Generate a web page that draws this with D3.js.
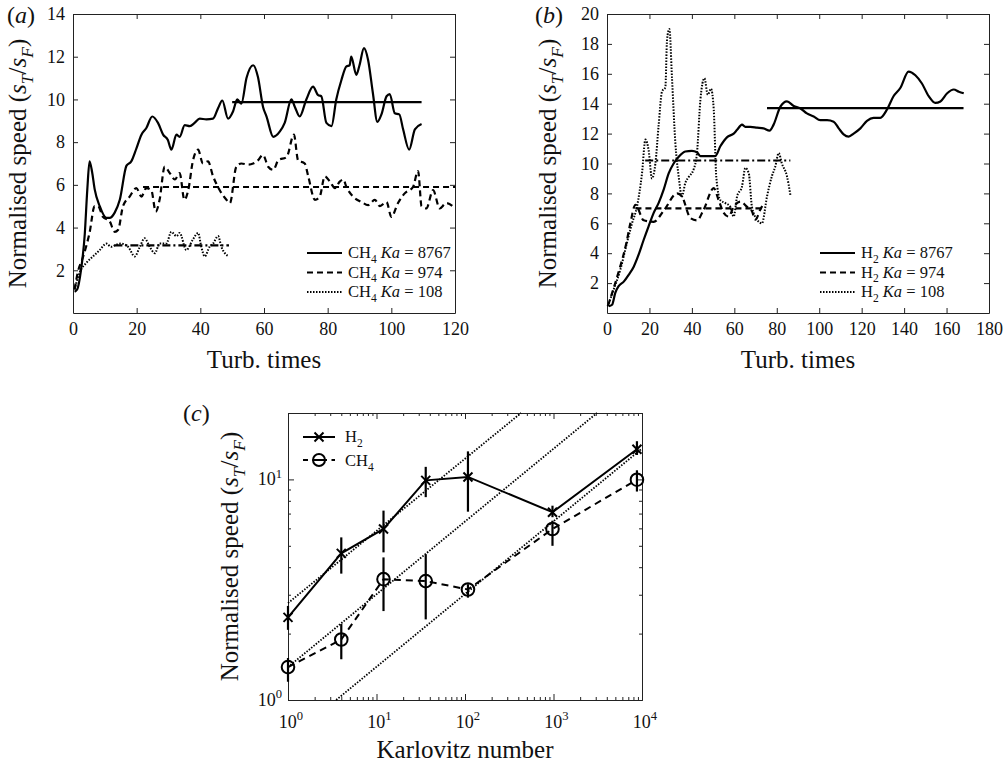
<!DOCTYPE html>
<html>
<head>
<meta charset="utf-8">
<script src="https://cdn.jsdelivr.net/npm/d3@7/dist/d3.min.js"></script>
<style>
  body { margin: 0; background: #fff; }
  svg text { font-family: "Liberation Serif", "Times New Roman", serif; fill: #111; }
</style>
</head>
<body>
<div id="fig"></div>
<script>
// ---- panel (a): CH4, [turb. time, s_T/s_F]
const ch4Ka8767 = [[0.5,1.0],[1.3,1.1],[2.5,2.0],[3.7,3.7],[4.5,5.8],[5.2,7.1],[6.0,6.6],[6.8,5.8],[8.4,5.0],[10.5,4.45],[11.5,4.45],[13.1,4.7],[14.7,5.3],[16.8,6.9],[18.3,7.1],[19.9,7.7],[21.5,8.35],[23,8.65],[24.9,9.2],[26.7,8.9],[28.3,8.35],[29.8,8.1],[30.9,7.65],[32.5,8.35],[33.5,8.25],[35.1,8.8],[36.7,8.75],[38.2,8.9],[39.8,9.1],[41.9,9.07],[44,9.1],[45.6,9.6],[46.9,9.95],[48.7,9.1],[50.3,9.45],[51.6,10],[52.9,9.8],[54.5,11],[56.6,11.6],[58.1,11.05],[59.7,9.65],[60.8,9.2],[62.9,8.25],[65,8.5],[66.5,8.9],[68.6,10],[69.7,9.65],[71.2,9.2],[73.3,10],[75.4,10.6],[77,10.2],[78,10.15],[79.6,8.9],[81.2,8.75],[82.7,10],[84.3,10.9],[85.9,11.55],[86.9,11.6],[87.4,12.0],[89,11.15],[90,11.6],[91.4,12.4],[92.7,11.85],[94.2,10.3],[95.6,8.95],[96.9,9.3],[98.5,10.15],[99.5,10.25],[101.1,9.35],[102.5,9.3],[103.7,8.6],[105.6,7.65],[107.4,8.6],[109.5,8.85]];
const ch4Ka974 = [[0.5,1.1],[1.5,1.9],[3.1,2.6],[5.2,3.75],[6.8,5.0],[7.9,5.0],[9.4,4.5],[11.5,4.3],[13.1,3.8],[14.2,3.9],[15.7,5.0],[17.8,5.45],[19.9,5.85],[21.5,5.45],[23,5.85],[24.6,5.75],[26,4.75],[27.2,5.3],[28.8,6.85],[30.4,6.55],[32,6.25],[33.5,6.55],[35,5.3],[36.2,5.75],[37.7,7.15],[39.3,7.65],[40.8,7.0],[42.4,7.1],[44,6.4],[46.1,5.75],[48.2,5.3],[49.3,5.15],[51.3,6.85],[52.9,7.0],[55,6.95],[56.6,7.0],[58.1,7.15],[59.7,7.4],[61.3,6.85],[62.9,6.7],[64.5,7.15],[67.1,7.3],[69.4,8.35],[70.7,7.15],[72.8,7.0],[73.9,6.4],[76,5.3],[77.5,5.45],[79.1,6.4],[80.7,6.15],[82.3,5.85],[83.8,6.15],[84.9,6.25],[85.9,5.9],[88,5.45],[90.6,5.2],[92.7,5.05],[94.8,5.3],[96.4,5.0],[98.5,5.2],[100,4.5],[102.1,5.15],[104.2,5.6],[106.8,5.9],[108.4,6.65],[109.5,5.0],[111,4.9],[113.1,5.75],[115.2,4.9],[117.3,5.15],[120,4.9]];
const ch4Ka108 = [[0.5,1.1],[2.1,1.9],[4.2,2.35],[6.3,2.65],[8.4,2.95],[10.5,3.25],[12,3.1],[13.6,3.2],[15.2,3.25],[17.3,3.1],[19.4,2.65],[21,3.1],[22.5,3.5],[24.1,3.1],[25.7,2.8],[27.2,3.25],[29.3,3.25],[30.9,3.8],[32.5,3.6],[33.5,3.75],[35.6,2.95],[37.7,3.45],[39.3,3.75],[40.3,3.1],[41.4,2.65],[42.9,3.1],[44,3.25],[45.6,3.6],[46.6,3.1],[47.7,2.8],[49,2.65]];
// time-averaged values: [start, end, mean]
const ch4Means = [[50, 109.5, 9.87], [22, 120, 5.9], [13, 49, 3.17]];
const kaLabels = ["8767", "974", "108"];

// ---- panel (b): H2
const h2Ka8767 = [[0.8,0.45],[2.4,0.55],[3.9,1.35],[5.5,1.8],[7.9,2.1],[10.2,2.55],[12.6,3.1],[14.9,3.9],[17.3,4.9],[19.6,5.8],[22,6.7],[24.3,7.35],[26.7,8.25],[29.1,9.35],[31.4,10.0],[33.8,10.45],[36.9,10.8],[40,10.85],[42.4,10.75],[44,10.5],[47.1,10.5],[51,10.5],[53.4,11.15],[56.5,11.75],[59.7,12.0],[61.3,12.25],[63.6,12.6],[65.2,12.45],[67.5,12.45],[70.7,12.4],[73.8,12.35],[76.6,12.2],[78.5,12.6],[81.7,13.8],[84.8,14.15],[88,13.85],[91,13.7],[94.2,13.35],[97.4,13.15],[100.5,12.9],[103.7,12.9],[106.8,12.8],[109.2,12.35],[111.5,11.95],[113.9,11.8],[116.2,12.0],[119.4,12.35],[122.5,12.85],[125.6,13.05],[128.8,13.05],[131.9,13.6],[135,14.5],[138.2,15.05],[142.1,16.15],[145.3,15.9],[148.4,15.35],[151.6,14.5],[154.7,14.05],[157.1,14.15],[160.3,14.7],[163.4,14.95],[165.8,14.8],[168.1,14.7]];
const h2Ka974 = [[0.5,0.5],[3,1.6],[6,3.0],[9,4.6],[11,6.0],[13.4,7.24],[17.3,6.2],[22,6.1],[27,6.9],[33,8.0],[35.3,7.8],[39.3,6.35],[42.4,6.2],[45.5,6.9],[50.3,8.35],[52.6,7.55],[55,6.7],[57.3,6.45],[59.7,7.1],[62.8,7.45],[66,7.1],[68.3,6.8],[69.9,6.25],[72.2,6.9],[73.8,7.35]];
const h2Ka108 = [[0.3,0.45],[3.1,1.55],[6.3,2.9],[9.4,4.7],[11.8,6.0],[14.1,7.1],[16.5,9.35],[18.1,11.6],[19.6,10.9],[21.2,9.0],[22.8,10.0],[24.3,12.5],[25.9,14.8],[27.5,15.1],[28.3,18.3],[29.4,19.0],[30.6,15.8],[32.2,11.4],[33.8,9.1],[35.3,7.8],[36.9,8.7],[38.5,9.1],[40.8,9.6],[42.4,10.7],[44,14.25],[45.9,15.7],[47.5,14.6],[49,15.0],[50.3,13.6],[51.5,9.1],[53.4,7.55],[55.8,7.35],[58.1,7.1],[59.7,6.45],[61.3,7.8],[63.6,8.45],[65.2,9.7],[66.8,9.35],[68.3,7.1],[70.7,6.25],[73,6.0],[75.4,7.8],[77.7,9.15],[79.3,9.8],[80.9,10.7],[82.4,10.0],[84.8,9.15],[86.4,7.9]];
const h2Means = [[75.4, 168, 13.7], [13.4, 73.8, 7.0], [18, 86.4, 10.2]];

// ---- panel (c): Karlovitz number vs mean speed, with error bars [low, high]
const kaValues = [1, 4, 12, 36, 108, 974, 8767];
const h2Speed = [2.37, 4.62, 5.96, 9.9, 10.26, 7.1, 13.7];
const h2Err = [[2.08,2.67],[3.74,5.46],[4.67,7.22],[8.31,11.4],[7.14,13.4],[6.74,7.6],[12.9,14.9]];
const ch4Speed = [1.41, 1.88, 3.53, 3.46, 3.17, 5.96, 9.97];
const ch4Err = [[1.21,1.55],[1.53,2.21],[2.53,4.43],[2.32,4.58],[2.91,3.35],[5.0,6.5],[8.81,11.0]];
// dotted guide lines, end points [Ka, speed]
const guides = [[[1, 2.75], [430, 20]], [[1, 1.41], [3100, 20]], [[3.5, 1], [10000, 13.8]]];

const styles = [
  { dash: null, width: 2.2 },
  { dash: "6,4", width: 2.2 },
  { dash: "1.5,1.5", width: 2 }
];
const meanDash = [null, "6,4", "8,3,2,3"];

const svg = d3.select("#fig").append("svg")
  .attr("width", 1006).attr("height", 763);

// write text made of parts: {t, it, sub, sup}
function rich(sel, parts, size) {
  let shift = 0;
  parts.forEach(p => {
    const ts = sel.append("tspan").text(p.t);
    if (p.it) ts.attr("font-style", "italic");
    let want = 0;
    if (p.sub) { want = size * 0.28; ts.attr("font-size", size * 0.7); }
    if (p.sup) { want = -size * 0.42; ts.attr("font-size", size * 0.7); }
    if (want !== shift) { ts.attr("dy", want - shift); shift = want; }
  });
  return sel;
}

const yTitle = [{t:"Normalised speed ("},{t:"s",it:true},{t:"T",it:true,sub:true},{t:"/"},{t:"s",it:true},{t:"F",it:true,sub:true},{t:")"}];

function styleAxis(g, size) {
  g.attr("font-size", size).attr("font-family", null).style("color", "#222");
  g.selectAll("path, line").attr("stroke-width", 1);
}

function timePanel(opt) {
  const { left, right, top, bottom } = opt.box;
  const x = d3.scaleLinear().domain([0, opt.xMax]).range([left, right]);
  const y = d3.scaleLinear().domain([0, opt.yMax]).range([bottom, top]);
  const g = svg.append("g");
  const xt = d3.range(0, opt.xMax + 1, opt.xStep);
  const yt = d3.range(2, opt.yMax + 1, 2);

  g.append("g").attr("transform", `translate(0,${bottom})`)
    .call(d3.axisBottom(x).tickValues(xt).tickSize(-5).tickSizeOuter(0).tickPadding(9))
    .call(a => styleAxis(a, 18));
  g.append("g").attr("transform", `translate(0,${top})`)
    .call(d3.axisTop(x).tickValues(xt).tickSize(-5).tickSizeOuter(0).tickFormat(""))
    .call(a => styleAxis(a, 18));
  g.append("g").attr("transform", `translate(${left},0)`)
    .call(d3.axisLeft(y).tickValues(yt).tickSize(-5).tickSizeOuter(0).tickPadding(8))
    .call(a => styleAxis(a, 18));
  g.append("g").attr("transform", `translate(${right},0)`)
    .call(d3.axisRight(y).tickValues(yt).tickSize(-5).tickSizeOuter(0).tickFormat(""))
    .call(a => styleAxis(a, 18));

  const smooth = d3.line().x(d => x(d[0])).y(d => y(d[1])).curve(d3.curveMonotoneX);
  opt.series.forEach((s, i) => {
    g.append("path").datum(s)
      .attr("d", smooth)
      .attr("fill", "none").attr("stroke", "#000")
      .attr("stroke-width", styles[i].width)
      .attr("stroke-dasharray", styles[i].dash);
  });
  opt.means.forEach((m, i) => {
    g.append("line")
      .attr("x1", x(m[0])).attr("x2", x(m[1]))
      .attr("y1", y(m[2])).attr("y2", y(m[2]))
      .attr("stroke", "#000").attr("stroke-width", 2.2)
      .attr("stroke-dasharray", meanDash[i]);
  });

  // legend
  kaLabels.forEach((ka, i) => {
    const ly = 253 + i * 19.5;
    g.append("line")
      .attr("x1", opt.legX).attr("x2", opt.legX + 35)
      .attr("y1", ly).attr("y2", ly)
      .attr("stroke", "#000").attr("stroke-width", styles[i].width)
      .attr("stroke-dasharray", styles[i].dash);
    const t = g.append("text").attr("x", opt.legX + 41).attr("y", ly + 5).attr("font-size", 16.5);
    rich(t, [{t: opt.fuel}, {t: opt.sub, sub: true}, {t: " "}, {t: "Ka", it: true}, {t: " = " + ka}], 16.5);
  });

  // titles
  g.append("text").attr("x", (left + right) / 2).attr("y", 368)
    .attr("text-anchor", "middle").attr("font-size", 25).text("Turb. times");
  const yt2 = g.append("text")
    .attr("transform", `translate(${opt.yTitleX},${(top + bottom) / 2}) rotate(-90)`)
    .attr("text-anchor", "middle").attr("font-size", 25);
  rich(yt2, yTitle, 25);
  const tag = g.append("text").attr("x", opt.tagX).attr("y", 23).attr("font-size", 24);
  rich(tag, [{t:"("},{t: opt.tag, it: true},{t:")"}], 24);
}

timePanel({
  box: { left: 73, right: 455, top: 14, bottom: 313 },
  xMax: 120, xStep: 20, yMax: 14,
  series: [ch4Ka8767, ch4Ka974, ch4Ka108], means: ch4Means,
  fuel: "CH", sub: "4", legX: 307,
  yTitleX: 26, tagX: 7, tag: "a"
});
timePanel({
  box: { left: 607, right: 989, top: 14, bottom: 313 },
  xMax: 180, xStep: 20, yMax: 20,
  series: [h2Ka8767, h2Ka974, h2Ka108], means: h2Means,
  fuel: "H", sub: "2", legX: 820,
  yTitleX: 556, tagX: 535, tag: "b"
});

// ---- panel (c)
(function () {
  const left = 288, right = 642, top = 413, bottom = 700;
  const x = d3.scaleLog().domain([1, 1e4]).range([left, right]);
  const y = d3.scaleLog().domain([1, 20]).range([bottom, top]);
  const g = svg.append("g");

  const xMinor = [];
  for (let e = 0; e < 4; e++) for (let k = 2; k <= 9; k++) xMinor.push(k * Math.pow(10, e));
  const xMajor = [1, 10, 100, 1000, 10000];
  const yMinor = [2, 3, 4, 5, 6, 7, 8, 9, 20];
  const yMajor = [1, 10];

  const axes = [
    [d3.axisBottom, x, `translate(0,${bottom})`],
    [d3.axisTop, x, `translate(0,${top})`],
    [d3.axisLeft, y, `translate(${left},0)`],
    [d3.axisRight, y, `translate(${right},0)`]
  ];
  axes.forEach(([ax, sc, tr]) => {
    const minor = sc === x ? xMinor : yMinor;
    const major = sc === x ? xMajor : yMajor;
    g.append("g").attr("transform", tr)
      .call(ax(sc).tickValues(minor).tickSize(-3).tickSizeOuter(0).tickFormat(""))
      .call(a => styleAxis(a, 18));
    g.append("g").attr("transform", tr)
      .call(ax(sc).tickValues(major).tickSize(-6).tickSizeOuter(0).tickFormat(""))
      .call(a => styleAxis(a, 18));
  });

  // tick labels as 10^n
  xMajor.forEach((v, i) => {
    const t = g.append("text").attr("x", x(v) + 3).attr("y", 728)
      .attr("text-anchor", "middle").attr("font-size", 18);
    rich(t, [{t: "10"}, {t: String(i), sup: true}], 18);
  });
  yMajor.forEach((v, i) => {
    const t = g.append("text").attr("x", left - 6).attr("y", y(v) + 6)
      .attr("text-anchor", "end").attr("font-size", 18);
    rich(t, [{t: "10"}, {t: String(i), sup: true}], 18);
  });

  // guide lines
  guides.forEach(gd => {
    g.append("line")
      .attr("x1", x(gd[0][0])).attr("y1", y(gd[0][1]))
      .attr("x2", x(gd[1][0])).attr("y2", y(gd[1][1]))
      .attr("stroke", "#000").attr("stroke-width", 1.8)
      .attr("stroke-dasharray", "1.5,1.5");
  });

  const line = d3.line().x(d => x(d[0])).y(d => y(d[1]));
  const h2 = kaValues.map((k, i) => [k, h2Speed[i]]);
  const ch4 = kaValues.map((k, i) => [k, ch4Speed[i]]);

  g.append("path").datum(h2).attr("d", line)
    .attr("fill", "none").attr("stroke", "#000").attr("stroke-width", 2);
  g.append("path").datum(ch4).attr("d", line)
    .attr("fill", "none").attr("stroke", "#000").attr("stroke-width", 2)
    .attr("stroke-dasharray", "7,5");

  // error bars
  [h2Err, ch4Err].forEach(err => {
    g.selectAll(null).data(err).join("line")
      .attr("x1", (d, i) => x(kaValues[i])).attr("x2", (d, i) => x(kaValues[i]))
      .attr("y1", d => y(d[0])).attr("y2", d => y(d[1]))
      .attr("stroke", "#000").attr("stroke-width", 2.2);
  });

  const cross = (cx, cy, r) => `M${cx - r},${cy - r}L${cx + r},${cy + r}M${cx - r},${cy + r}L${cx + r},${cy - r}`;
  g.selectAll(null).data(h2).join("path")
    .attr("d", d => cross(x(d[0]), y(d[1]), 4.5))
    .attr("stroke", "#000").attr("stroke-width", 2).attr("fill", "none");
  g.selectAll(null).data(ch4).join("circle")
    .attr("cx", d => x(d[0])).attr("cy", d => y(d[1])).attr("r", 6.3)
    .attr("stroke", "#000").attr("stroke-width", 2).attr("fill", "none");

  // legend
  const lx = 303;
  g.append("line").attr("x1", lx).attr("x2", lx + 32).attr("y1", 437).attr("y2", 437)
    .attr("stroke", "#000").attr("stroke-width", 2);
  g.append("path").attr("d", cross(lx + 16, 437, 4.5))
    .attr("stroke", "#000").attr("stroke-width", 2);
  g.append("line").attr("x1", lx).attr("x2", lx + 32).attr("y1", 460).attr("y2", 460)
    .attr("stroke", "#000").attr("stroke-width", 2).attr("stroke-dasharray", "5,4.5");
  g.append("circle").attr("cx", lx + 16).attr("cy", 460).attr("r", 6)
    .attr("stroke", "#000").attr("stroke-width", 2).attr("fill", "#fff");
  g.append("line").attr("x1", lx + 11).attr("x2", lx + 21).attr("y1", 460).attr("y2", 460)
    .attr("stroke", "#000").attr("stroke-width", 2);
  rich(g.append("text").attr("x", 345).attr("y", 442).attr("font-size", 16.5),
    [{t: "H"}, {t: "2", sub: true}], 16.5);
  rich(g.append("text").attr("x", 345).attr("y", 466).attr("font-size", 16.5),
    [{t: "CH"}, {t: "4", sub: true}], 16.5);

  // titles
  g.append("text").attr("x", (left + right) / 2).attr("y", 758)
    .attr("text-anchor", "middle").attr("font-size", 25).text("Karlovitz number");
  const yt = g.append("text")
    .attr("transform", `translate(238,${(top + bottom) / 2}) rotate(-90)`)
    .attr("text-anchor", "middle").attr("font-size", 25);
  rich(yt, yTitle, 25);
  rich(g.append("text").attr("x", 183).attr("y", 421).attr("font-size", 24),
    [{t: "("}, {t: "c", it: true}, {t: ")"}], 24);
})();
</script>
</body>
</html>
